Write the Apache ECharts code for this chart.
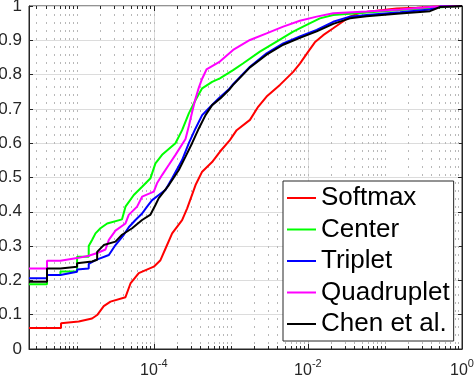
<!DOCTYPE html>
<html><head><meta charset="utf-8">
<script src="https://cdn.jsdelivr.net/npm/echarts@6/dist/echarts.min.js"></script>
<style>html,body{margin:0;padding:0;background:#fff}#c{width:474px;height:376px}</style>
</head><body><div id="c"></div>
<script>
const seriesNames = ['Softmax', 'Center', 'Triplet', 'Quadruplet', 'Chen et al.'];
const seriesColors = ['#ff0000', '#00ff00', '#0000ff', '#ff00ff', '#000000'];

const softmax = [[2.4e-6,0.061],[6.25e-6,0.061],[6.25e-6,0.075],[1.06e-5,0.080],[1.58e-5,0.089],[1.84e-5,0.099],[2.03e-5,0.112],[2.24e-5,0.125],[2.74e-5,0.138],[4.29e-5,0.151],[4.98e-5,0.191],[6.38e-5,0.221],[1.0e-4,0.240],[1.22e-4,0.259],[1.42e-4,0.293],[1.73e-4,0.337],[2.33e-4,0.376],[2.71e-4,0.410],[3.48e-4,0.478],[4.24e-4,0.517],[5.71e-4,0.545],[7.20e-4,0.575],[9.71e-4,0.609],[1.19e-3,0.638],[1.77e-3,0.668],[2.26e-3,0.706],[2.91e-3,0.736],[4.33e-3,0.770],[6.44e-3,0.808],[7.87e-3,0.832],[1.01e-2,0.867],[1.23e-2,0.894],[1.58e-2,0.915],[2.13e-2,0.935],[2.61e-2,0.949],[3.51e-2,0.969],[4.73e-2,0.980],[9.5e-2,0.988],[1.42e-1,0.993],[2.58e-1,0.995],[4.24e-1,0.998],[1,1]];
const center = [[2.4e-6,0.189],[4.11e-6,0.189],[4.11e-6,0.216],[6.14e-6,0.216],[6.14e-6,0.226],[1.01e-5,0.226],[1.01e-5,0.269],[1.43e-5,0.269],[1.43e-5,0.300],[1.58e-5,0.318],[1.75e-5,0.337],[2.03e-5,0.352],[2.48e-5,0.366],[3.87e-5,0.378],[4.29e-5,0.415],[5.50e-5,0.449],[7.05e-5,0.473],[9.06e-5,0.498],[1.05e-4,0.541],[1.28e-4,0.566],[1.91e-4,0.600],[2.33e-4,0.638],[2.85e-4,0.687],[3.48e-4,0.726],[4.24e-4,0.760],[5.71e-4,0.779],[7.2e-4,0.789],[1.07e-3,0.813],[1.45e-3,0.833],[2.38e-3,0.867],[3.92e-3,0.896],[6.44e-3,0.925],[9.62e-3,0.945],[1.43e-2,0.964],[2.13e-2,0.974],[4.29e-2,0.979],[1.57e-1,0.988],[4.24e-1,0.995],[1,1]];
const triplet = [[2.4e-6,0.206],[4.11e-6,0.206],[4.11e-6,0.216],[6.14e-6,0.216],[6.14e-6,0.221],[1.01e-5,0.225],[1.01e-5,0.232],[1.43e-5,0.235],[1.43e-5,0.248],[1.75e-5,0.259],[2.61e-5,0.274],[3.18e-5,0.303],[4.08e-5,0.333],[4.73e-5,0.355],[5.78e-5,0.376],[7.05e-5,0.395],[8.18e-5,0.415],[9.51e-5,0.434],[1.16e-4,0.449],[1.42e-4,0.464],[1.73e-4,0.498],[2.33e-4,0.551],[2.85e-4,0.600],[3.48e-4,0.643],[4.24e-4,0.682],[5.18e-4,0.702],[6.98e-4,0.731],[9.42e-4,0.757],[1.07e-3,0.772],[1.77e-3,0.823],[2.91e-3,0.862],[4.78e-3,0.891],[7.87e-3,0.911],[1.30e-2,0.930],[2.13e-2,0.954],[3.51e-2,0.969],[5.78e-2,0.974],[1.57e-1,0.982],[3.84e-1,0.990],[5.18e-1,0.999],[1,1]];
const quadruplet = [[2.4e-6,0.235],[4.11e-6,0.235],[4.11e-6,0.257],[6.14e-6,0.257],[6.14e-6,0.261],[1.01e-5,0.265],[1.43e-5,0.272],[1.84e-5,0.280],[2.36e-5,0.290],[2.61e-5,0.318],[3.18e-5,0.345],[4.29e-5,0.366],[4.73e-5,0.391],[6.07e-5,0.415],[7.05e-5,0.444],[1.0e-4,0.459],[1.10e-4,0.483],[1.28e-4,0.507],[1.57e-4,0.537],[1.91e-4,0.566],[2.58e-4,0.612],[2.85e-4,0.650],[3.14e-4,0.690],[3.48e-4,0.730],[3.84e-4,0.762],[4.24e-4,0.788],[4.83e-4,0.815],[7.2e-4,0.838],[1.07e-3,0.872],[1.77e-3,0.901],[2.91e-3,0.920],[4.78e-3,0.940],[7.87e-3,0.957],[1.30e-2,0.969],[2.13e-2,0.979],[5.78e-2,0.984],[1.57e-1,0.990],[4.24e-1,0.998],[1,1]];
const chen = [[2.4e-6,0.196],[4.11e-6,0.196],[4.11e-6,0.235],[6.14e-6,0.235],[6.14e-6,0.240],[1.01e-5,0.240],[1.01e-5,0.250],[1.58e-5,0.255],[1.84e-5,0.260],[1.84e-5,0.283],[2.24e-5,0.303],[3.18e-5,0.313],[3.87e-5,0.333],[5.23e-5,0.352],[7.05e-5,0.376],[9.06e-5,0.392],[1.05e-4,0.420],[1.16e-4,0.440],[1.57e-4,0.478],[2.11e-4,0.522],[2.58e-4,0.561],[3.14e-4,0.600],[3.84e-4,0.643],[4.69e-4,0.682],[5.71e-4,0.711],[7.35e-4,0.731],[9.42e-4,0.755],[1.07e-3,0.770],[1.77e-3,0.821],[2.91e-3,0.858],[4.78e-3,0.887],[7.87e-3,0.907],[1.30e-2,0.926],[2.13e-2,0.948],[3.51e-2,0.964],[5.78e-2,0.970],[1.57e-1,0.978],[3.84e-1,0.985],[5.18e-1,0.997],[1,1]];

const xMin = 2.4e-6, xMax = 1;
const xLabelExponents = [-4, -2, 0];
const yMin = 0, yMax = 1, yStep = 0.1;

const allSeries = [softmax, center, triplet, quadruplet, chen];

// minor / major x tick positions (log decades)
const xTickVals = [];
for (let e = -6; e <= 0; e++) {
  for (let m = 1; m <= 9; m++) {
    const v = m * Math.pow(10, e);
    if (v >= xMin * 0.999 && v <= xMax * 1.0001) {
      xTickVals.push([v, (m === 1 && xLabelExponents.indexOf(e) >= 0) ? 1 : 0]);
    }
  }
}

const axisColor = '#262626';
const font = '"Liberation Sans", Arial, Helvetica, sans-serif';

const chart = echarts.init(document.getElementById('c'), null, {renderer: 'canvas'});

const series = [{
  type: 'custom',
  name: 'ticks',
  z: 1,
  silent: true,
  clip: false,
  coordinateSystem: 'cartesian2d',
  encode: {x: 0, y: 1},
  data: xTickVals,
  renderItem: function (params, api) {
    const v = api.value(0);
    const major = api.value(1) === 1;
    const x = Math.round(api.coord([v, 0.5])[0]) + 0.5;
    const cs = params.coordSys;
    const top = cs.y, bot = cs.y + cs.height;
    const ch = [];
    if (major && v < 0.99) {
      ch.push({type: 'line', shape: {x1: x, y1: top, x2: x, y2: bot}, style: {stroke: '#dcdcdc', lineWidth: 1}});
    }
    if (v < 0.99) {
      ch.push({type: 'line', shape: {x1: x, y1: top, x2: x, y2: bot}, style: {stroke: '#b8b8b8', lineWidth: 1, lineDash: [2, 6]}});
    }
    const len = major ? 5 : 3;
    ch.push({type: 'line', shape: {x1: x, y1: bot, x2: x, y2: bot - len}, style: {stroke: axisColor, lineWidth: 1}});
    ch.push({type: 'line', shape: {x1: x, y1: top, x2: x, y2: top + len}, style: {stroke: axisColor, lineWidth: 1}});
    return {type: 'group', children: ch};
  }
}];

allSeries.forEach(function (d, i) {
  series.push({
    type: 'line',
    name: seriesNames[i],
    data: d,
    z: 3,
    symbol: 'none',
    showSymbol: false,
    clip: true,
    lineStyle: {color: seriesColors[i], width: 2},
    itemStyle: {color: seriesColors[i]}
  });
});

chart.setOption({
  animation: false,
  backgroundColor: '#ffffff',
  grid: {left: 29, right: 12, top: 6, bottom: 27, show: true, borderColor: axisColor, borderWidth: 1, containLabel: false, outerBoundsMode: 'none'},
  legend: {
    data: seriesNames.map(function (n, i) { return {name: n, icon: 'rect', itemStyle: {color: seriesColors[i]}}; }),
    orient: 'vertical',
    left: 283,
    top: 181,
    padding: [4, 4, 4, 4],
    itemGap: 5.5,
    itemWidth: 29,
    itemHeight: 2,
    backgroundColor: '#ffffff',
    borderColor: axisColor,
    borderWidth: 1,
    borderRadius: 0,
    selectedMode: false,
    textStyle: {fontSize: 26, color: '#000000', fontFamily: font}
  },
  xAxis: [{
    type: 'log',
    logBase: 10,
    min: xMin,
    max: xMax,
    axisLine: {show: true, lineStyle: {color: axisColor}},
    axisTick: {show: false},
    splitLine: {show: false},
    minorTick: {show: false},
    axisLabel: {
      interval: 0,
      margin: 9,
      showMinLabel: true,
      showMaxLabel: true,
      formatter: function (v) {
        const l = Math.log10(v);
        const e = Math.round(l);
        if (Math.abs(l - e) > 1e-6) return '';
        if (xLabelExponents.indexOf(e) < 0) return '';
        return '{b|10}{s|' + e + '}';
      },
      rich: {
        b: {fontSize: 16, color: axisColor, fontFamily: font, padding: [5, 0, 0, 0]},
        s: {fontSize: 11, color: axisColor, fontFamily: font, verticalAlign: 'top'}
      }
    }
  }],
  yAxis: [{
    type: 'value',
    min: yMin,
    max: yMax,
    interval: yStep,
    axisLine: {show: true, lineStyle: {color: axisColor}},
    axisTick: {show: true, inside: true, length: 4, lineStyle: {color: axisColor}},
    axisLabel: {fontSize: 17, color: axisColor, fontFamily: font, margin: 7},
    splitLine: {show: true, lineStyle: {color: '#dcdcdc', width: 1}}
  }, {
    type: 'value',
    position: 'right',
    min: yMin,
    max: yMax,
    interval: yStep,
    axisLine: {show: true, lineStyle: {color: axisColor}},
    axisTick: {show: true, inside: true, length: 4, lineStyle: {color: axisColor}},
    axisLabel: {show: false},
    splitLine: {show: false}
  }],
  series: series
});
</script>
</body></html>
